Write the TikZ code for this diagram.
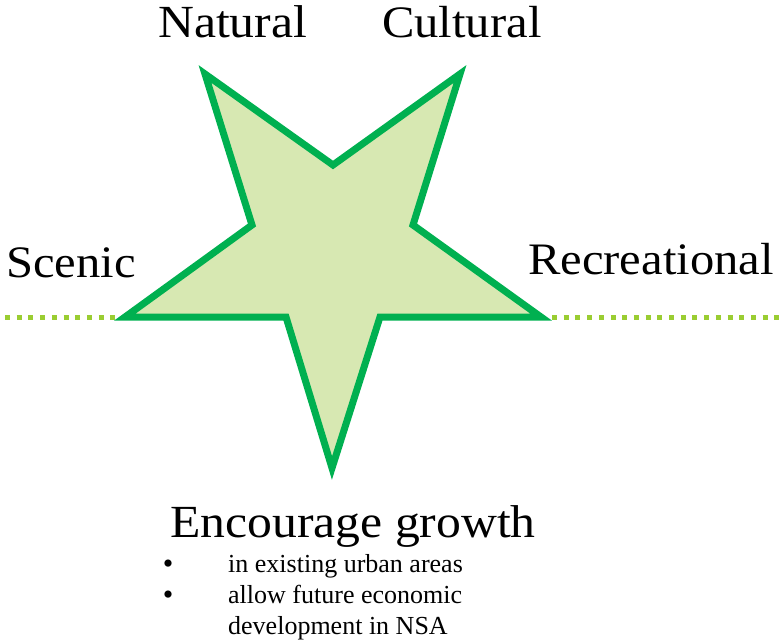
\documentclass[tikz,border=0pt]{standalone}
\usepackage{fontspec}
\setmainfont[FakeStretch=1.08]{Liberation Serif}
\newfontfamily\listfont{Liberation Serif}
\usepackage{tikz}

\definecolor{stargreen}{HTML}{00B050}
\definecolor{starfill}{HTML}{D7E8B2}
\definecolor{lime}{HTML}{9ACD32}

\tikzset{
	star/.style={draw=stargreen, fill=starfill, line width=7pt, miter limit=10},
	guide/.style={lime, line width=5pt, dash pattern=on 5pt off 6.7pt},
	big/.style={inner sep=0pt, anchor=base west, font=\fontsize{45}{54}\selectfont},
	small/.style={inner sep=0pt, anchor=base west, font=\listfont\fontsize{26}{31}\selectfont},
	dot/.style={inner sep=0pt, anchor=base, font=\listfont\fontsize{30}{31}\selectfont}
}

\begin{document}
\begin{tikzpicture}[x=1pt, y=-1pt]

	\useasboundingbox (0,0) rectangle (784,644);

	% points and notches of the star
	\coordinate (t1) at (205,74);
	\coordinate (i1) at (333,165);
	\coordinate (t2) at (460,74);
	\coordinate (i2) at (413,225);
	\coordinate (t3) at (541,317);
	\coordinate (i3) at (380,317);
	\coordinate (t4) at (332,468);
	\coordinate (i4) at (286,317);
	\coordinate (t5) at (125,317);
	\coordinate (i5) at (252,225);

	% dotted line through the side points
	\coordinate (lend) at (5,317);
	\coordinate (rend) at (552,317);
	\coordinate (rfar) at (784,317);
	\draw[guide] (lend) -- (t5);
	\draw[guide] (rend) -- (rfar);

	\draw[star] (t1) -- (i1) -- (t2) -- (i2) -- (t3) -- (i3) -- (t4) -- (i4) -- (t5) -- (i5) -- cycle;

	\node[big, font=\fontsize{46}{54}\selectfont] (natural) at (158,38) {Natural};
	\node[big] (cultural) at (382,38) {Cultural};
	\node[big] (scenic) at (6,277) {Scenic};
	\node[big] (recreational) at (528,274) {Recreational};

	\node[big, font=\fontsize{46}{54}\selectfont] (growth) at (170,537) {Encourage growth};
	\node[dot] (b1) at (168,573) {•};
	\node[small] (urban) at (228,572) {in existing urban areas};
	\node[dot] (b2) at (168,604) {•};
	\node[small] (future) at (228,603) {allow future economic};
	\node[small] (nsa) at (228,634) {development in NSA};

\end{tikzpicture}
\end{document}
